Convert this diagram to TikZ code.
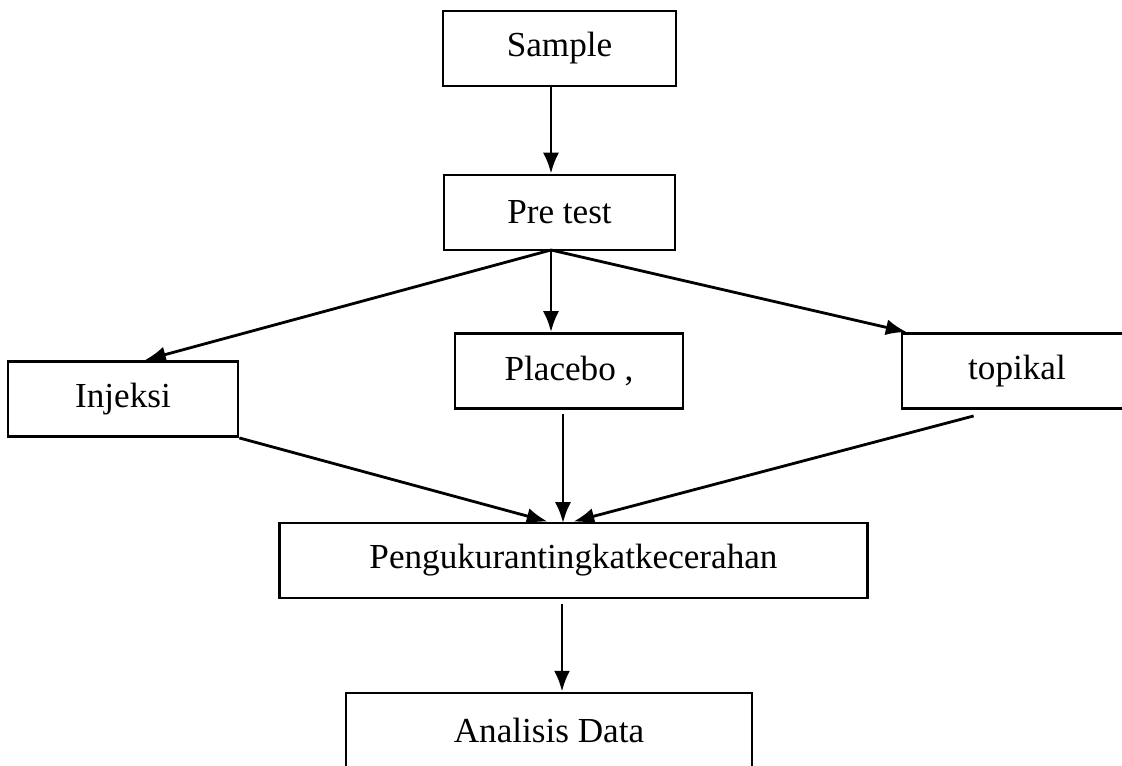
\documentclass[tikz,border=0pt]{standalone}
\usepackage{fontspec}
\setmainfont{Liberation Serif}
\usetikzlibrary{arrows.meta,calc,positioning}

\begin{document}
\begin{tikzpicture}[x=0.025cm,y=-0.025cm,>={Latex[length=0.52cm,width=0.4cm]},
    kotak/.style={draw,line width=1.9pt,inner sep=0pt,minimum height=1.88cm,
      font=\fontsize{25}{30}\selectfont},
    panah/.style={->,line width=2pt}]
      \clip (0,0) rectangle (1122,766);
      % kotak-kotak
      \node[kotak,minimum width=5.83cm] (sample) at (559.5,48.5) {Sample};
      \node[kotak,minimum width=5.78cm] (pretest) at (559.5,212.5) {Pre test};
      \node[kotak,minimum width=5.75cm] (injeksi) at (123,399) {Injeksi};
      \node[kotak,minimum width=5.70cm] (placebo) at (569,371) {Placebo ,};
      \node[kotak,minimum width=5.75cm] (topikal) at (1017,371) {topikal};
      \node[kotak,minimum width=14.68cm] (ukur) at (573.5,560.5) {Pengukurantingkatkecerahan};
      \node[kotak,minimum width=10.15cm] (analisis) at (549,730.5) {Analisis Data};
      \coordinate (fork) at (551,250);
      \coordinate (masuk) at (563,523);
      \coordinate (bawah) at (562,0);
      % panah
      \draw[panah] (fork |- sample.south)--(fork |- pretest.north);
      \draw[panah] (fork)--($(injeksi.north)+(22,0)$);
      \draw[panah] (fork)--(fork |- placebo.north);
      \draw[panah] (fork)--($(topikal.north west)+(6,0)$);
      \draw[panah] (injeksi.south east)--($(ukur.north)+(-26,0)$);
      \draw[panah] ($(placebo.south)+(-6,4)$)--(masuk);
      \draw[panah] ($(topikal.south west)+(73,6)$)--(ukur.north);
      \draw[panah] ($(bawah |- ukur.south)+(0,5)$)--(bawah |- analisis.north);
    \end{tikzpicture}
\end{document}
